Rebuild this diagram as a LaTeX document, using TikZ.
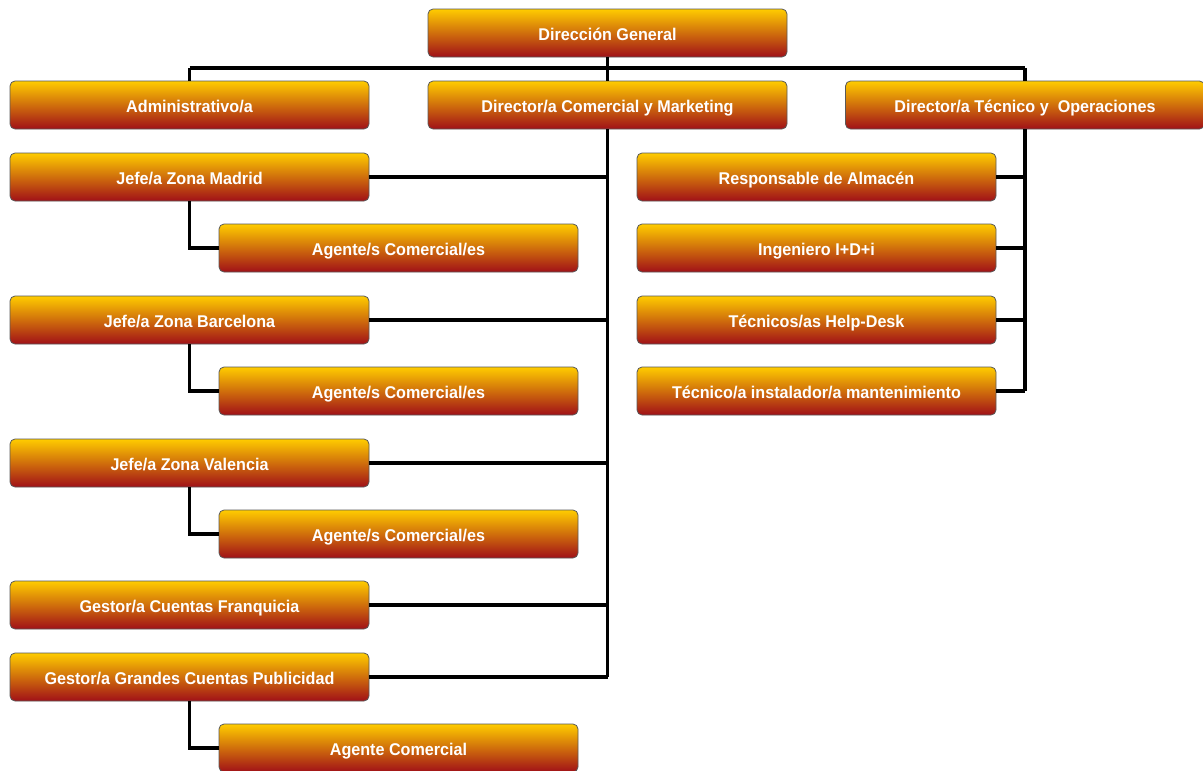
\documentclass[tikz,border=0pt]{standalone}
\usepackage{fontspec}
\newfontfamily\cargofont{Liberation Sans}[FakeStretch=0.95]
\usepackage{tikz}
\usepackage{xcolor}
\definecolor{amarillo}{RGB}{255,204,0}
\definecolor{granate}{RGB}{160,16,24}
\tikzset{cargo/.style={rectangle, rounded corners=5pt, draw=black!65, thick,
  top color=amarillo, bottom color=granate, text=white,
  minimum width=359pt, minimum height=48pt, inner sep=0pt, outer sep=0pt,
  text height=15.5pt, text depth=1pt,
  font=\cargofont\bfseries\fontsize{17}{20}\selectfont}}
\tikzset{linea/.style={line width=3.5pt, black}}

\begin{document}
\begin{tikzpicture}[x=1pt, y=-1pt]
  \useasboundingbox (0,0) rectangle (1203,771);

  \node[cargo] (dg) at (607.5, 33) {Dirección General};

  \node[cargo] (adm) at (189.5, 105) {Administrativo/a};
  \node[cargo] (dcm) at (607.5, 105) {Director/a Comercial y Marketing};
  \node[cargo] (dto) at (1025, 105) {Director/a Técnico y\ \ Operaciones};

  \node[cargo] (jmad) at (189.5, 177) {Jefe/a Zona Madrid};
  \node[cargo] (amad) at (398.5, 248) {Agente/s Comercial/es};
  \node[cargo] (jbcn) at (189.5, 320) {Jefe/a Zona Barcelona};
  \node[cargo] (abcn) at (398.5, 391) {Agente/s Comercial/es};
  \node[cargo] (jval) at (189.5, 463) {Jefe/a Zona Valencia};
  \node[cargo] (aval) at (398.5, 534) {Agente/s Comercial/es};
  \node[cargo] (gcf) at (189.5, 605) {Gestor/a Cuentas Franquicia};
  \node[cargo] (ggc) at (189.5, 677) {Gestor/a Grandes Cuentas Publicidad};
  \node[cargo] (agc) at (398.5, 748) {Agente Comercial};

  \node[cargo] (ralm) at (816.5, 177) {Responsable de Almacén};
  \node[cargo] (ing) at (816.5, 248) {Ingeniero I+D+i};
  \node[cargo] (thd) at (816.5, 320) {Técnicos/as Help-Desk};
  \node[cargo] (tim) at (816.5, 391) {Técnico/a instalador/a mantenimiento};

  \coordinate (bus) at (607.5, 68);

  % direccion general
  \draw[linea] (dg.south) -- (bus);
  \draw[linea] (adm.north |- bus) -- (dto.north |- bus);
  \draw[linea] (adm.north |- bus) -- (adm.north);
  \draw[linea] (bus) -- (dcm.north);
  \draw[linea] (dto.north |- bus) -- (dto.north);

  % comercial
  \draw[linea] (dcm.south) -- (dcm.south |- ggc);
  \foreach \n in {jmad, jbcn, jval, gcf, ggc}
    \draw[linea] (\n.east) -- (\n -| dcm.south);
  \draw[linea] (jmad.south) |- (amad.west);
  \draw[linea] (jbcn.south) |- (abcn.west);
  \draw[linea] (jval.south) |- (aval.west);
  \draw[linea] (ggc.south) |- (agc.west);

  % tecnico
  \draw[linea] (dto.south) -- (dto.south |- tim);
  \foreach \n in {ralm, ing, thd, tim}
    \draw[linea] (\n.east) -- (\n -| dto.south);

\end{tikzpicture}
\end{document}
